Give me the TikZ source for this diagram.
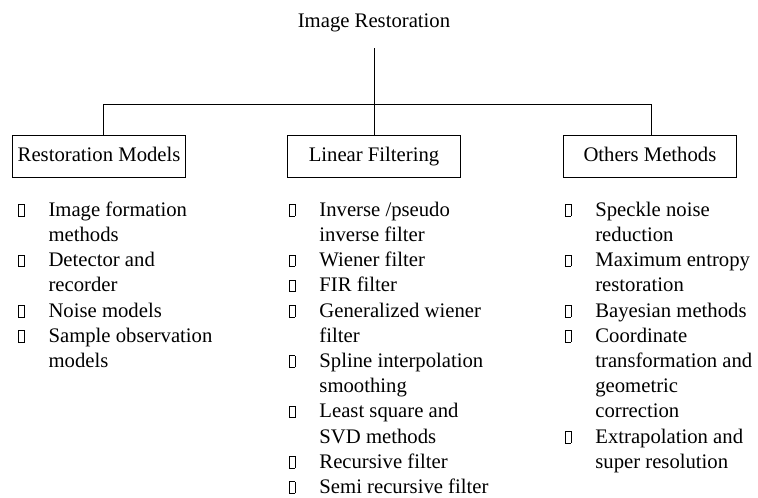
\documentclass[tikz,border=0pt]{standalone}
\usepackage{fontspec}
\setmainfont{Liberation Serif}
\usepackage{tikz}
\usetikzlibrary{positioning}

\newcommand{\bx}{\raisebox{0.5pt}{\fboxsep=0pt\fboxrule=0.6pt\fbox{\rule{0pt}{11pt}\hspace{5pt}}}}

\begin{document}
\begin{tikzpicture}[
x=1pt, y=1pt,
every node/.style={
font=\fontsize{20.7}{25.2}\selectfont
},
head/.style={
inner sep=0pt,
anchor=base
},
box/.style={
rectangle,
draw=black,
line width=0.9pt,
minimum width=173pt,
minimum height=42pt,
text height=14pt,
text depth=4pt,
inner sep=0pt,
align=center
},
items/.style={
inner sep=0pt,
align=left
},
link/.style={
line width=0.8pt
}
]

\useasboundingbox (0,0) rectangle (758,-498);

\node (title) [head] at (374,-27) {Image Restoration};

\node (lf) [box] at (374,-156) {Linear Filtering};

\node (rm) [box, left=101pt of lf] {Restoration Models};

\node (om) [box, right=102pt of lf] {Others Methods};

\node (rml) [items, below right=21pt and 6pt of rm.south west]
{\begin{tabular}{@{}l@{\hspace{24pt}}l@{}}
\bx & Image formation\\
    & methods\\
\bx & Detector and\\
    & recorder\\
\bx & Noise models\\
\bx & Sample observation\\
    & models
\end{tabular}};

\node (lfl) [items, below right=21pt and 2pt of lf.south west]
{\begin{tabular}{@{}l@{\hspace{24pt}}l@{}}
\bx & Inverse /pseudo\\
    & inverse filter\\
\bx & Wiener filter\\
\bx & FIR filter\\
\bx & Generalized wiener\\
    & filter\\
\bx & Spline interpolation\\
    & smoothing\\
\bx & Least square and\\
    & SVD methods\\
\bx & Recursive filter\\
\bx & Semi recursive filter
\end{tabular}};

\node (oml) [items, below right=21pt and 2pt of om.south west]
{\begin{tabular}{@{}l@{\hspace{24pt}}l@{}}
\bx & Speckle noise\\
    & reduction\\
\bx & Maximum entropy\\
    & restoration\\
\bx & Bayesian methods\\
\bx & Coordinate\\
    & transformation and\\
    & geometric\\
    & correction\\
\bx & Extrapolation and\\
    & super resolution
\end{tabular}};

\draw [link, shorten <=21pt] (title.base) -- (lf.north);
\draw [link] ([xshift=4pt]rm.north) -- ++(0,30) -| ([xshift=1.5pt]om.north);

\end{tikzpicture}
\end{document}
